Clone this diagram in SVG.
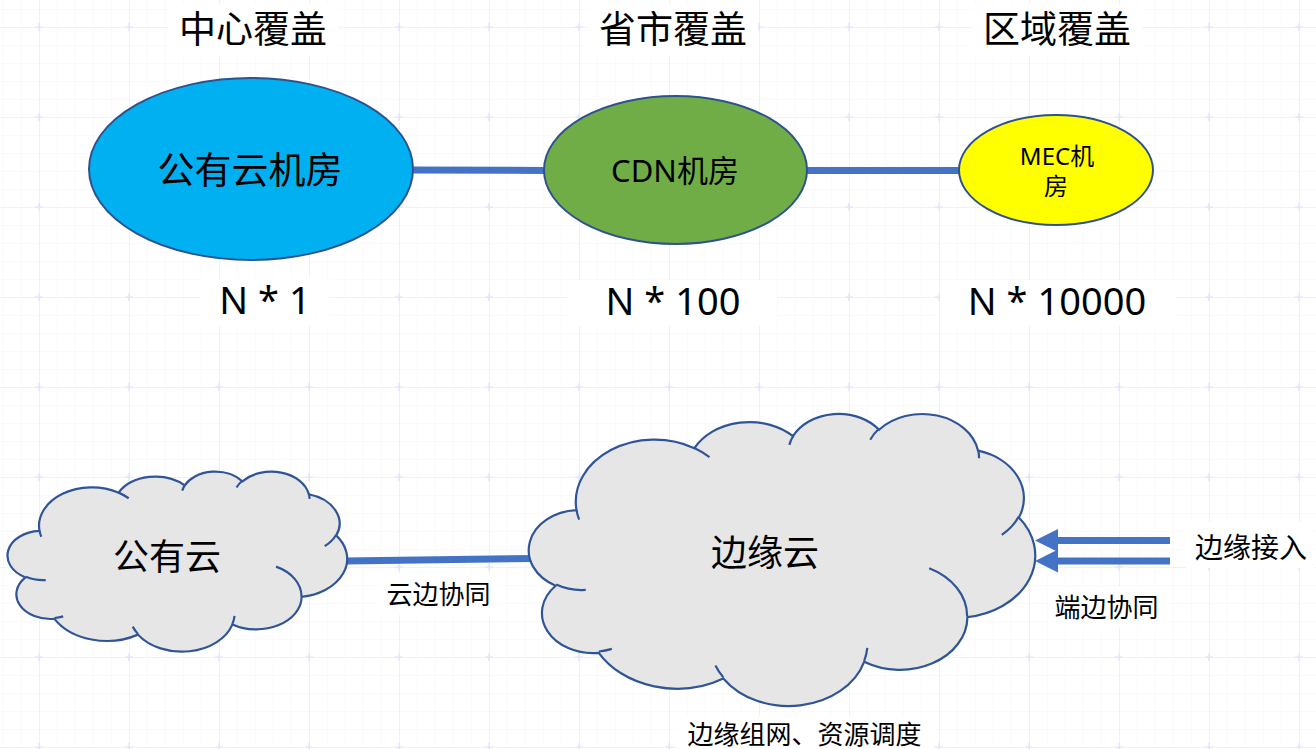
<svg xmlns="http://www.w3.org/2000/svg" xmlns:xlink="http://www.w3.org/1999/xlink" width="1316" height="749" viewBox="0 0 1316 749">
  <style>
    .cjk { font-family: "Noto Sans CJK SC", sans-serif; fill: #000; text-anchor: middle; }
    .lat { font-family: "Noto Sans", "Noto Sans CJK SC", sans-serif; fill: #000; text-anchor: middle; }
    .node-ell { stroke: #2f528f; stroke-width: 2; }
    .cloud { fill: #e7e6e6; stroke: #2f5597; stroke-width: 2.2; }
    .crease { fill: none; stroke: #2f5597; stroke-width: 2.2; }
    .conn { stroke: #4472c4; stroke-width: 7; fill: none; }
    .tbox { fill: #ffffff; }
  </style>
  <defs>
    <pattern id="minor" x="39" y="27" width="18" height="18" patternUnits="userSpaceOnUse">
      <path d="M0,0 V18 M0,0 H18" stroke="#f2f5fc" stroke-width="1" fill="none"/>
    </pattern>
    <pattern id="major" x="39" y="27" width="90" height="90" patternUnits="userSpaceOnUse">
      <path d="M0,0 V90 M0,0 H90" stroke="#e4ecfa" stroke-width="1.2" fill="none"/>
      <path d="M-4,0 H4 M0,-4 V4 M86,0 H94 M90,-4 V4 M-4,90 H4 M0,86 V94 M86,90 H94 M90,86 V94" stroke="#d9e4f8" stroke-width="1.2" fill="none"/>
    </pattern>
    <path id="cloudOutline" d="M3900,14370 A6753,9190 0 0 1 14005.6,5202.4 A5333,7267 0 0 1 22456.9,3432.9 A4365,5945 0 0 1 29834.1,2480.7 A4857,6595 0 0 1 38318.9,5576.5 A5333,7273 0 0 1 41819.4,15460.2 A6775,9220 0 0 1 37405.8,30204.3 A5785,7867 0 0 1 28557.3,36814.4 A6752,9215 0 0 1 16483.2,39268.5 A7720,10543 0 0 1 5807.4,35475.3 A4360,5918 0 0 1 2113.6,25557.2 A4345,5945 0 0 1 3900,14370 Z" class="cloud" vector-effect="non-scaling-stroke"/>
    <path id="cloudCreases" d="M4693,26177 A4345,5945 0 0 1 2159.7,25379.9 M6928,34899 A4360,5918 0 0 1 5819.6,35280.4 M16478,39090 A6752,9215 0 0 1 15808.8,37346.7 M28827,34751 A6752,9215 0 0 1 28560.4,36659.8 M34129,22954 A5785,7867 0 0 1 37380.9,30089.8 M41798,15354 A5333,7273 0 0 1 40349.7,18030.3 M38324,5426 A4857,6595 0 0 1 38400.4,6689.6 M29078,3952 A4857,6595 0 0 1 29820.1,2339.5 M22141,4720 A4365,5945 0 0 1 22499.8,3330.9 M14000,5192 A6753,9190 0 0 1 15300,6540.9 M4127,15789 A6753,9190 0 0 1 3900.3,14371.1" class="crease" vector-effect="non-scaling-stroke"/>
  </defs>

  <rect x="0" y="0" width="1316" height="749" fill="#ffffff"/>
  <rect x="0" y="0" width="1316" height="749" fill="url(#minor)"/>
  <rect x="0" y="0" width="1316" height="749" fill="url(#major)"/>

  <!-- connectors -->
  <g id="connectors">
    <line class="conn" x1="412" y1="170" x2="546" y2="170.5"/>
    <line class="conn" x1="806" y1="170.5" x2="961" y2="170.5"/>
    <line class="conn" x1="345" y1="561" x2="534" y2="558.5"/>
    <line class="conn" x1="1170" y1="540.5" x2="1055" y2="540.5"/>
    <polygon points="1035,540.5 1058,529 1058,552" fill="#4472c4"/>
    <line class="conn" x1="1170" y1="561" x2="1055" y2="561"/>
    <polygon points="1035,561 1058,549.5 1058,572.5" fill="#4472c4"/>
  </g>

  <!-- top titles -->
  <g id="title-center">
    <rect class="tbox" x="168" y="4" width="170" height="52"/>
    <text class="cjk" x="253" y="43" font-size="37">中心覆盖</text>
  </g>
  <g id="title-province">
    <rect class="tbox" x="588" y="4" width="170" height="52"/>
    <text class="cjk" x="673" y="43" font-size="37">省市覆盖</text>
  </g>
  <g id="title-region">
    <rect class="tbox" x="972" y="4" width="170" height="52"/>
    <text class="cjk" x="1057" y="43" font-size="37">区域覆盖</text>
  </g>

  <!-- ellipses -->
  <g id="node-public-dc">
    <ellipse class="node-ell" cx="251" cy="169" rx="162" ry="91" fill="#00b0f0"/>
    <text class="cjk" x="250" y="184" font-size="37">公有云机房</text>
  </g>
  <g id="node-cdn">
    <ellipse class="node-ell" cx="675.5" cy="170" rx="131.5" ry="74" fill="#70ad47"/>
    <text class="lat" x="675" y="182" font-size="31">CDN机房</text>
  </g>
  <g id="node-mec">
    <ellipse class="node-ell" cx="1056" cy="170" rx="97" ry="55" fill="#ffff00"/>
    <text class="lat" x="1057" y="165" font-size="24">MEC机</text>
    <text class="cjk" x="1056" y="195" font-size="24">房</text>
  </g>

  <!-- counts -->
  <g id="count-1">
    <rect class="tbox" x="200" y="278" width="130" height="48"/>
    <text class="lat" x="265" y="314" font-size="38">N * 1</text>
  </g>
  <g id="count-100">
    <rect class="tbox" x="568" y="280" width="209" height="46"/>
    <text class="lat" x="673" y="315" font-size="38">N * 100</text>
  </g>
  <g id="count-10000">
    <rect class="tbox" x="940" y="280" width="236" height="46"/>
    <text class="lat" x="1057" y="315" font-size="38">N * 10000</text>
  </g>

  <!-- clouds -->
  <g id="node-public-cloud">
    <g transform="translate(9,471) scale(0.0078241,0.0041667)">
      <use xlink:href="#cloudOutline"/>
      <use xlink:href="#cloudCreases"/>
    </g>
    <text class="cjk" x="167" y="570" font-size="36">公有云</text>
  </g>
  <g id="node-edge-cloud">
    <g transform="translate(531,413) scale(0.0116667,0.0067593)">
      <use xlink:href="#cloudOutline"/>
      <use xlink:href="#cloudCreases"/>
    </g>
    <text class="cjk" x="765" y="566" font-size="36">边缘云</text>
  </g>

  <!-- bottom labels -->
  <g id="label-cloud-edge">
    <rect class="tbox" x="380" y="573" width="118" height="42"/>
    <text class="cjk" x="438.5" y="604" font-size="26">云边协同</text>
  </g>
  <g id="label-edge-net">
    <rect class="tbox" x="676" y="716" width="258" height="33"/>
    <text class="cjk" x="804.5" y="744" font-size="26">边缘组网、资源调度</text>
  </g>
  <g id="label-edge-access">
    <rect class="tbox" x="1186" y="522" width="128" height="46"/>
    <text class="cjk" x="1251" y="558" font-size="28">边缘接入</text>
  </g>
  <g id="label-device-edge">
    <rect class="tbox" x="1048" y="586" width="118" height="42"/>
    <text class="cjk" x="1106.5" y="617" font-size="26">端边协同</text>
  </g>
</svg>
